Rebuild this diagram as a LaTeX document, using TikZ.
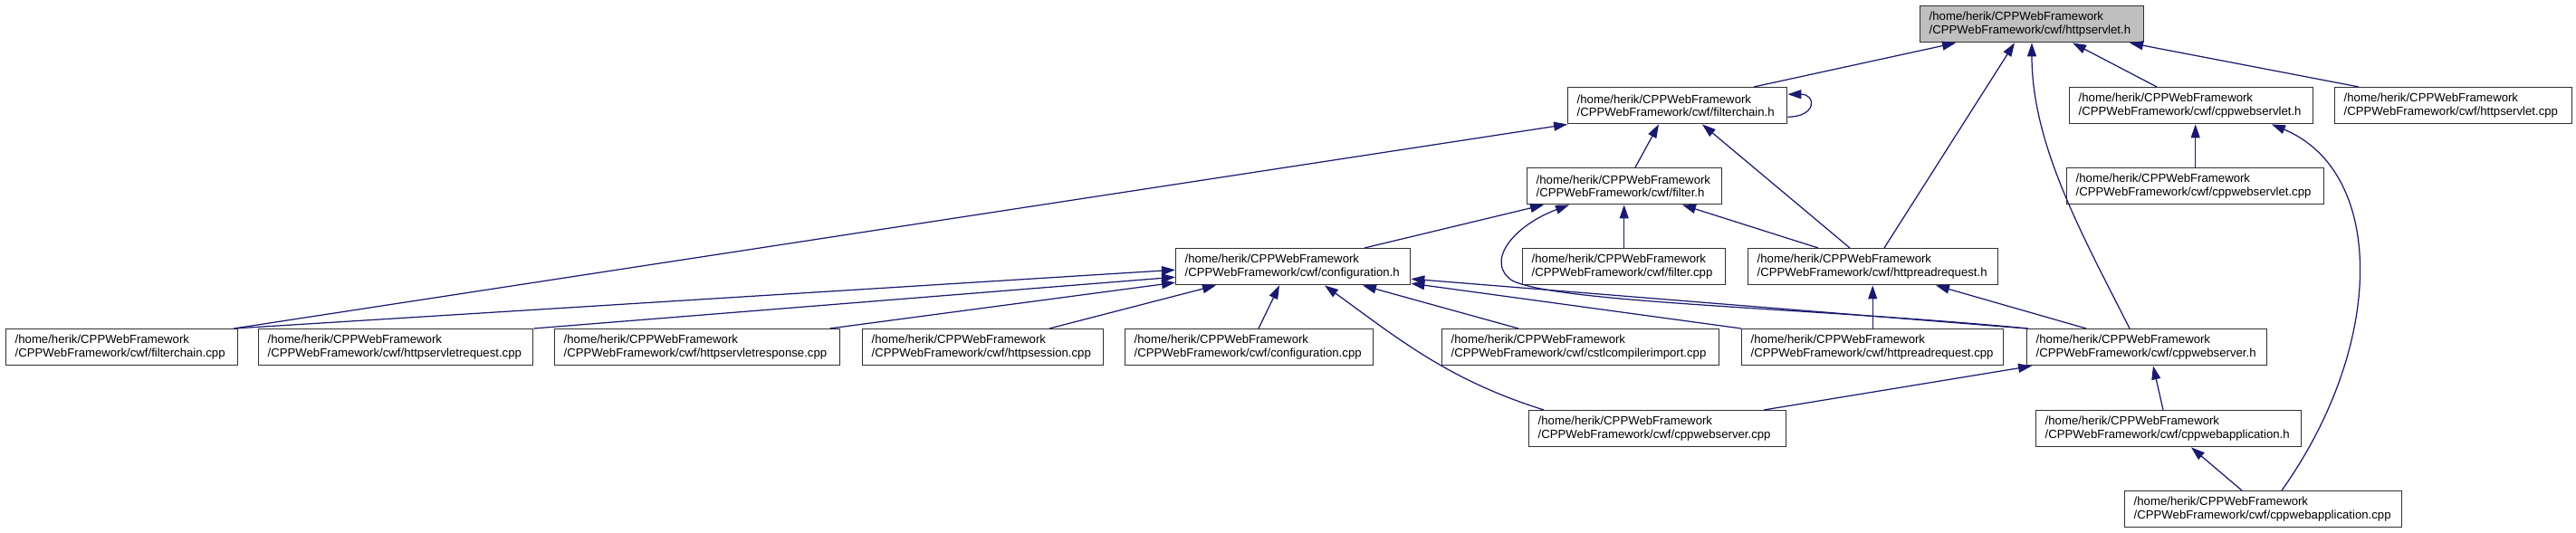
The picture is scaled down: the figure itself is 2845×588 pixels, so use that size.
\documentclass[tikz,border=0pt]{standalone}
\usepackage{fontspec}
\setmainfont{Liberation Sans}
\usetikzlibrary{arrows.meta}
\definecolor{edgeblue}{HTML}{191970}
\definecolor{boxline}{HTML}{303030}
\definecolor{curfile}{HTML}{BFBFBF}
\newcommand{\cwf}[1]{/home/herik/CPPWebFramework\\/CPPWebFramework/cwf/#1}

\begin{document}
\begin{tikzpicture}[x=0.02cm,y=-0.02cm,
  file/.style={draw=boxline,line width=0.8pt,fill=white,anchor=north west,align=left,
    inner xsep=0.2cm,inner ysep=0pt,minimum height=0.8cm,
    font=\fontsize{7.5}{8.1}\selectfont},
  edge/.style={edgeblue,line width=0.7pt,-{Triangle[length=0.3cm,width=0.2cm]}}]
\useasboundingbox (0,0) rectangle (2845,588);
% files, one row after another
\node[file,fill=curfile,text width=4.54cm] (hs_h) at (2120,6) {\cwf{httpservlet.h}};
\node[file,text width=4.44cm] (fc_h) at (1731,96) {\cwf{filterchain.h}};
\node[file,text width=4.98cm] (cws_h) at (2285,96) {\cwf{cppwebservlet.h}};
\node[file,text width=4.84cm] (hs_cpp) at (2578,96) {\cwf{httpservlet.cpp}};
\node[file,text width=3.90cm] (f_h) at (1686,185) {\cwf{filter.h}};
\node[file,text width=5.28cm] (cws_cpp) at (2282,185) {\cwf{cppwebservlet.cpp}};
\node[file,text width=4.78cm] (conf_h) at (1298,274) {\cwf{configuration.h}};
\node[file,text width=4.08cm] (f_cpp) at (1681,274) {\cwf{filter.cpp}};
\node[file,text width=5.12cm] (hrr_h) at (1930,274) {\cwf{httpreadrequest.h}};
\node[file,text width=4.72cm] (fc_cpp) at (6,363) {\cwf{filterchain.cpp}};
\node[file,text width=5.66cm] (hsreq_cpp) at (285,363) {\cwf{httpservletrequest.cpp}};
\node[file,text width=5.90cm] (hsresp_cpp) at (612,363) {\cwf{httpservletresponse.cpp}};
\node[file,text width=4.92cm] (hss_cpp) at (952,363) {\cwf{httpsession.cpp}};
\node[file,text width=5.08cm] (conf_cpp) at (1242,363) {\cwf{configuration.cpp}};
\node[file,text width=5.72cm] (cstl_cpp) at (1592,363) {\cwf{cstlcompilerimport.cpp}};
\node[file,text width=5.38cm] (hrr_cpp) at (1923,363) {\cwf{httpreadrequest.cpp}};
\node[file,text width=4.90cm] (cwsrv_h) at (2238,363) {\cwf{cppwebserver.h}};
\node[file,text width=5.28cm] (cwsrv_cpp) at (1688,453) {\cwf{cppwebserver.cpp}};
\node[file,text width=5.46cm] (cwa_h) at (2248,453) {\cwf{cppwebapplication.h}};
\node[file,text width=5.72cm] (cwa_cpp) at (2346,542) {\cwf{cppwebapplication.cpp}};

% into httpservlet.h
\draw[edge] ([xshift=4.12cm]fc_h.north west) -- ([xshift=0.80cm]hs_h.south west);
\draw[edge] ([xshift=3.02cm]hrr_h.north west) -- ([xshift=2.10cm]hs_h.south west);
\draw[edge] ([xshift=2.28cm]cwsrv_h.north west) .. controls (2300,260) and (2244,160) .. ([xshift=2.48cm]hs_h.south west);
\draw[edge] ([xshift=1.94cm]cws_h.north west) -- ([xshift=3.38cm]hs_h.south west);
\draw[edge] ([xshift=0.54cm]hs_cpp.north west) -- ([xshift=4.64cm]hs_h.south west);

% into filterchain.h
\draw[edge] ([yshift=-0.25cm]fc_h.east) .. controls +(32,0) and +(32,0) .. ([yshift=0.25cm]fc_h.east);
\draw[edge] ([xshift=2.40cm]f_h.north west) -- ([xshift=2.02cm]fc_h.south west);
\draw[edge] ([xshift=2.26cm]hrr_h.north west) -- ([xshift=2.98cm]fc_h.south west);
\draw[edge] ([xshift=-0.1cm]fc_cpp.north east) -- (fc_h.south west);

% into cppwebservlet.h
\draw[edge] (cws_cpp.north) -- (cws_cpp.north |- cws_h.south);
\draw[edge] ([xshift=3.48cm]cwa_cpp.north west) .. controls (2635,380) and (2635,190) .. ([xshift=4.48cm]cws_h.south west);

% into filter.h
\draw[edge] ([xshift=4.18cm]conf_h.north west) -- ([xshift=0.38cm]f_h.south west);
\draw[edge] (f_cpp.north) -- (f_cpp.north |- f_h.south);
\draw[edge] ([xshift=1.56cm]hrr_h.north west) -- ([xshift=3.44cm]f_h.south west);
\draw[edge] ([xshift=0.04cm]cwsrv_h.north west) .. controls (2000,340) and (1720,335) .. (1670,310)
  .. controls (1640,290) and (1670,250) .. ([xshift=0.94cm]f_h.south west);

% into configuration.h
\draw[edge] ([xshift=-0.1cm]fc_cpp.north east) -- ([yshift=-0.07cm]conf_h.west);
\draw[edge] (hsreq_cpp.north east) -- ([yshift=-0.23cm]conf_h.west);
\draw[edge] ([xshift=-0.24cm]hsresp_cpp.north east) -- ([yshift=-0.35cm]conf_h.west);
\draw[edge] ([xshift=4.14cm]hss_cpp.north west) -- ([xshift=0.90cm]conf_h.south west);
\draw[edge] ([xshift=2.96cm]conf_cpp.north west) -- ([xshift=2.30cm]conf_h.south west);
\draw[edge] ([xshift=0.34cm]cwsrv_cpp.north west) .. controls (1600,420) and (1545,375) .. ([xshift=3.30cm]conf_h.south west);
\draw[edge] ([xshift=1.70cm]cstl_cpp.north west) -- ([xshift=4.14cm]conf_h.south west);
\draw[edge] (hrr_cpp.north west) -- ([yshift=-0.37cm]conf_h.east);
\draw[edge] (cwsrv_h.north west) -- ([yshift=-0.27cm]conf_h.east);

% into httpreadrequest.h
\draw[edge] (hrr_cpp.north) -- (hrr_cpp.north |- hrr_h.south);
\draw[edge] ([xshift=1.32cm]cwsrv_h.north west) -- ([xshift=4.16cm]hrr_h.south west);

% lower part
\draw[edge] ([xshift=5.20cm]cwsrv_cpp.north west) -- ([xshift=0.12cm]cwsrv_h.south west);
\draw[edge] ([xshift=2.82cm]cwa_h.north west) -- ([xshift=2.80cm]cwsrv_h.south west);
\draw[edge] ([xshift=2.60cm]cwa_cpp.north west) -- ([xshift=3.44cm]cwa_h.south west);
\end{tikzpicture}
\end{document}
